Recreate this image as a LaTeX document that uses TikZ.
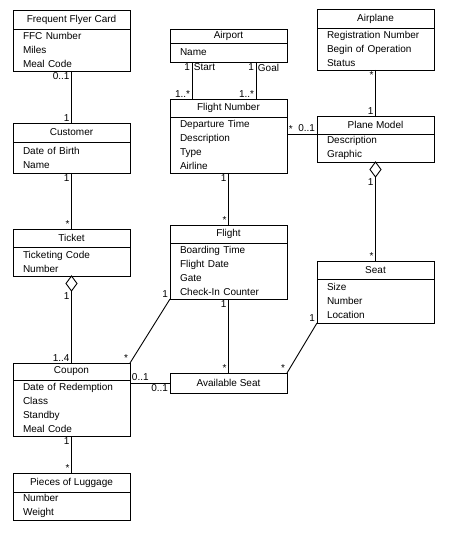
\documentclass[tikz,border=0pt]{standalone}
\usepackage{fontspec}
\setmainfont{Liberation Sans}
\usetikzlibrary{shapes.geometric}

\begin{document}
\begin{tikzpicture}[x=1pt, y=-1pt, line width=0.9pt,
  every node/.style={font=\fontsize{10}{14}\selectfont},
  cls/.style={draw, minimum width=117pt, minimum height=18pt, inner sep=0pt, outer sep=0pt, anchor=north west},
  att/.style={draw, text width=97pt, inner xsep=10pt, inner ysep=0pt, outer sep=0pt, align=left, anchor=north, minimum height=#1},
  agg/.style={draw, diamond, fill=white, minimum width=11pt, minimum height=15pt, inner sep=0pt, outer sep=0pt, anchor=north},
  mfrom/.style={at start, anchor=north east, inner sep=1.5pt},
  mto/.style={at end, anchor=south east, inner sep=1.5pt}]
\useasboundingbox (0,0) rectangle (452,537);

\node[cls, minimum height=19pt] (ffc) at (13,10) {Frequent Flyer Card};
\node[att=42pt] (ffcA) at (ffc.south) {FFC Number\\Miles\\Meal Code};
\node[cls, minimum height=19pt] (cust) at (13,123) {Customer};
\node[att=31pt] (custA) at (cust.south) {Date of Birth\\Name};
\node[cls] (tick) at (13,229) {Ticket};
\node[att=29pt] (tickA) at (tick.south) {Ticketing Code\\Number};
\node[cls, minimum height=17pt] (coup) at (13,363) {Coupon};
\node[att=56pt] (coupA) at (coup.south) {Date of Redemption\\Class\\Standby\\Meal Code};
\node[cls, minimum height=19pt] (lug) at (13,473) {Pieces of Luggage};
\node[att=28pt] (lugA) at (lug.south) {Number\\Weight};

\node[cls, minimum height=14pt] (port) at (170,29) {Airport};
\node[att=19pt] (portA) at (port.south) {Name};
\node[cls] (fn) at (170,99) {Flight Number};
\node[att=56pt] (fnA) at (fn.south) {Departure Time\\Description\\Type\\Airline};
\node[cls] (fl) at (170,225) {Flight};
\node[att=56pt] (flA) at (fl.south) {Boarding Time\\Flight Date\\Gate\\Check-In Counter};
\node[cls, minimum height=20pt] (avail) at (170,373) {Available Seat};

\node[cls, minimum height=19pt] (plane) at (317,9) {Airplane};
\node[att=42pt] (planeA) at (plane.south) {Registration Number\\Begin of Operation\\Status};
\node[cls] (model) at (317,116) {Plane Model};
\node[att=28pt] (modelA) at (model.south) {Description\\Graphic};
\node[cls] (seat) at (317,261) {Seat};
\node[att=44pt] (seatA) at (seat.south) {Size\\Number\\Location};

\node[agg] (tickD) at (tickA.south) {};
\node[agg] (modelD) at (modelA.south) {};

\draw (ffcA.south) -- node[mfrom] {0..1} node[mto] {1} (cust.north);
\draw (custA.south) -- node[mfrom] {1} node[mto] {*} (tick.north);
\draw (tickD.south) -- node[mfrom] {1} node[mto] {1..4} (coup.north);
\draw (coupA.south) -- node[mfrom] {1} node[mto] {*} (lug.north);
\draw ([xshift=22pt]portA.south west) -- node[mfrom] {1} node[mfrom, anchor=north west] {Start} node[mto] {1..*} ([xshift=22pt]fn.north west);
\draw ([xshift=-31pt]portA.south east) -- node[mfrom] {1} node[mfrom, anchor=north west] {Goal} node[mto] {1..*} ([xshift=-31pt]fn.north east);
\draw (fnA.south) -- node[mfrom] {1} node[mto] {*} (fl.north);
\draw (flA.south) -- node[mfrom] {1} node[mto] {*} (avail.north);
\draw (planeA.south) -- node[mfrom] {*} node[mto] {1} (model.north);
\draw (modelD.south) -- node[mfrom] {1} node[mto] {*} (seat.north);
\draw (fnA.east |- modelA.north) -- node[mfrom, anchor=south west] {*} node[mto] {0..1} (modelA.north west);
\draw (flA.south west) -- node[mfrom, anchor=south east] {1} node[mto] {*} (coup.north east);
\draw (seatA.south west) -- node[mfrom, anchor=south east] {1} node[mto] {*} (avail.north east);
\draw (coupA.east |- avail.west) -- node[mfrom, anchor=south west] {0..1} node[mto, anchor=north east] {0..1} (avail.west);
\end{tikzpicture}
\end{document}
